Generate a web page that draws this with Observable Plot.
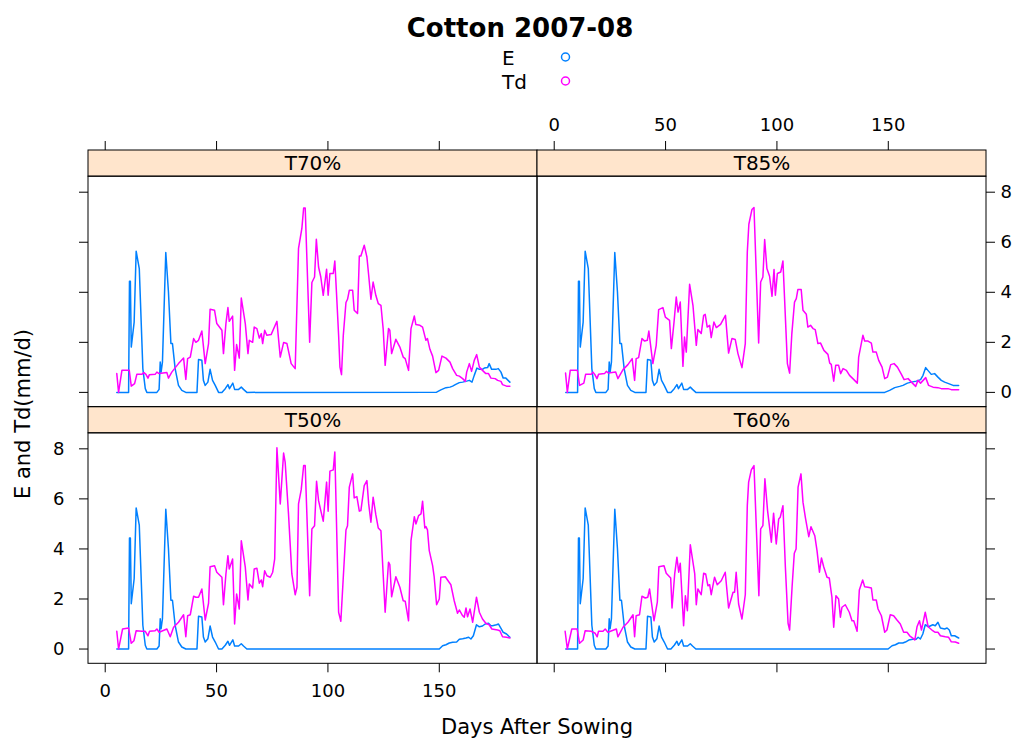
<!DOCTYPE html>
<html>
<head>
<meta charset="utf-8">
<script src="https://cdn.jsdelivr.net/npm/d3@7"></script>
<script src="https://cdn.jsdelivr.net/npm/@observablehq/plot@0.6"></script>
<style>
  html, body { margin: 0; padding: 0; background: #fff; }
  #wrap { position: relative; width: 1021px; height: 742px; overflow: hidden; font-family: "DejaVu Sans", sans-serif; }
  #chart { position: absolute; left: 0; top: 100px; }
  #overlay { position: absolute; left: 0; top: 0; pointer-events: none; }
</style>
</head>
<body>
<div id="wrap">
  <div id="chart"></div>
  <svg id="overlay" width="1021" height="742"></svg>
</div>
<script>
// ---- panels (lattice layout: two columns, two rows) ----
const panelNames = ["T70%", "T85%", "T50%", "T60%"];
const panelCols  = [0, 1, 0, 1];
const panelRows  = [0, 0, 1, 1];

const seriesNames  = ["E", "Td"];
const seriesColors = ["#0080ff", "#ff00ff"];

const xTicks = [0, 50, 100, 150];
const yTicks = [0, 2, 4, 6, 8];

const chartTitle = "Cotton 2007-08";
const xTitle = "Days After Sowing";
const yTitle = "E and Td(mm/d)";

// ---- soil evaporation E (mm/d): [day after sowing, value] ----
// the early season is common to all treatments
const eEarly = [[5.2,0],[10.5,0],[10.9,4.44],[11.3,4.44],[11.7,1.81],[13,2.81],[13.9,5.64],[15.3,4.95],[16.9,0.95],[18,0.15],[18.7,0],[23.2,0],[24.2,0.12],[24.7,1.21],[25.1,0.81],[25.7,1.21],[27.2,5.59],[28.4,4.01],[29.5,1.95],[30.2,1.95],[31.4,0.95],[32.9,0.28],[34.4,0.08],[36.2,0],[41.2,0],[41.9,1.31],[43.4,1.28],[44.1,0.48],[44.9,0.28],[46.1,0.41],[47.1,0.92],[48.2,0.48],[49.4,0.28],[50.9,0],[52.4,0],[53.9,0.15],[55.1,0.31],[55.8,0.15],[57.3,0.37],[58.1,0.12],[59.9,0.12],[61.1,0.21],[62.1,0.12],[63.6,0]];
const eTail70 = [[148.8,0.01],[150.7,0.1],[153,0.19],[154.8,0.21],[156,0.25],[157.2,0.31],[159,0.39],[160.5,0.41],[162.3,0.45],[163.5,0.48],[164.7,0.41],[165.7,0.68],[166.9,0.97],[168,0.92],[169.4,0.92],[170.2,0.97],[171.7,0.99],[172.4,1.15],[173.5,0.92],[175.4,0.92],[176.5,0.95],[177.7,0.81],[178.7,0.57],[179.9,0.57],[181.7,0.41]];
const eTail85 = [[148.4,0],[150.6,0.08],[152.9,0.19],[155.1,0.24],[156.6,0.28],[158.6,0.37],[160.4,0.41],[162.6,0.45],[164.5,0.51],[165.6,0.68],[166.8,0.99],[167.8,0.88],[169.3,0.72],[170.8,0.75],[172.3,0.61],[173.8,0.48],[175.3,0.41],[177.1,0.35],[179.1,0.28],[181.6,0.28]];
const eTail50 = [[150,0],[151.5,0.13],[153,0.17],[154.5,0.24],[156,0.27],[157.8,0.28],[159,0.39],[160.5,0.41],[162,0.44],[163.2,0.47],[164.2,0.4],[165.3,0.53],[166.7,0.97],[168,0.89],[169.4,0.92],[170.6,1.0],[172.1,1.03],[173.2,0.93],[173.9,0.93],[175.7,0.97],[176.6,1.0],[177.7,0.83],[178.7,0.67],[180.2,0.6],[181.7,0.47]];
const eTail60 = [[149.9,0],[151.7,0.13],[153.2,0.17],[154.7,0.24],[156.5,0.24],[157.7,0.28],[159.2,0.36],[161,0.39],[162.5,0.39],[163.4,0.47],[164.4,0.4],[165.5,0.6],[166.6,0.97],[168.1,0.89],[170,0.97],[171.1,0.93],[172.3,1.07],[173.4,0.84],[175.3,0.8],[176.4,0.84],[177.4,0.76],[178.3,0.53],[179.8,0.53],[181.6,0.44]];

// ---- transpiration Td (mm/d): [day after sowing, value] ----
const td70 = [[5.2,0.75],[6,0],[7.5,0.88],[10.8,0.88],[11.7,0.25],[13.2,0.35],[14.2,0.72],[16.4,0.72],[17.4,0.79],[18.3,0.72],[19.2,0.57],[19.8,0.7],[22.4,0.72],[23.2,0.81],[24.2,0.75],[27.7,0.79],[28.4,0.57],[29.9,0.81],[32.9,1.15],[35.2,1.37],[36.2,0.52],[37,1.35],[38.2,1.41],[39.7,2.15],[40.7,2.0],[41.9,2.08],[43.4,2.45],[44.9,1.15],[46.4,1.95],[47.1,3.32],[49.1,3.28],[50.1,2.75],[52.4,2.48],[53.1,1.55],[54.2,2.75],[55.1,3.39],[55.7,2.84],[57.2,3.05],[58.1,0.88],[59,1.91],[60.2,1.37],[61.1,3.77],[62.9,2.75],[64.1,1.55],[64.7,2.08],[66.2,2.0],[66.9,2.61],[68.1,2.55],[69.2,2.17],[70.1,2.35],[70.7,1.95],[71.6,2.48],[72.6,2.28],[74.5,2.31],[77.1,2.84],[78.6,1.41],[80.1,1.99],[81.6,1.95],[83.5,1.15],[85.3,0.95],[86.8,5.75],[88.3,6.55],[89.1,7.37],[89.8,7.37],[91.8,2.0],[92.8,4.39],[94,4.61],[94.8,6.12],[95.8,5.01],[96.8,4.61],[97.9,3.88],[99.4,4.92],[100.1,3.88],[100.9,4.75],[102.4,4.75],[103.1,5.25],[103.9,3.88],[104.8,2.28],[105.4,1.01],[106.1,0.71],[106.9,2.28],[108.1,3.59],[108.8,3.72],[109.6,4.08],[111.1,4.08],[111.8,3.28],[113.3,3.15],[114.1,5.45],[114.8,5.45],[116.3,5.88],[117.5,5.41],[118.3,4.68],[119.3,3.72],[120.3,4.41],[121.5,3.88],[122.6,3.55],[123.8,3.48],[124.8,2.55],[125.7,1.08],[127.2,2.55],[127.8,2.48],[128.6,1.55],[130.5,2.12],[132.3,1.81],[133.8,1.41],[134.7,1.35],[136.2,0.88],[137.3,2.55],[138.8,3.05],[139.5,2.71],[141.3,2.68],[142.5,2.61],[144,2.08],[144.7,2.15],[145.8,1.72],[147,1.45],[148.5,0.79],[149.7,0.88],[151.2,1.45],[153,1.37],[154.8,1.21],[156,0.95],[157.8,0.68],[159,0.65],[160.5,0.55],[161.7,0.44],[162.3,0.81],[163.5,1.15],[164.5,0.84],[165.7,1.28],[166.8,1.51],[168,1.01],[169.4,0.88],[170.9,0.75],[172.1,0.75],[173.2,0.57],[175.1,0.55],[176.2,0.48],[177.7,0.44],[178.4,0.31],[180.2,0.25],[181.7,0.25]];
const td85 = [[5.1,0.77],[5.9,0],[7.2,0.88],[10.4,0.88],[11.4,0.28],[13.3,0.37],[14.1,0.72],[16.6,0.72],[17.4,0.81],[18.2,0.72],[19.2,0.55],[19.9,0.72],[22.6,0.75],[23.4,0.84],[24.4,0.77],[27.6,0.81],[28.6,0.55],[30.9,0.91],[33.1,1.11],[35,1.35],[36.1,0.48],[36.8,1.35],[37.9,1.39],[39.4,2.15],[40.6,2.05],[41.8,2.08],[42.5,2.45],[44.3,1.15],[45.8,1.88],[46.9,3.31],[48.8,3.39],[49.9,3.01],[51.8,2.88],[52.6,1.75],[53.8,2.81],[54.8,3.81],[55.6,3.21],[56.6,3.61],[57.8,1.04],[58.5,2.21],[59.3,1.61],[60.8,4.32],[62.3,3.48],[63.8,1.88],[64.5,2.51],[66,2.35],[67.1,3.08],[67.8,3.12],[68.7,2.61],[69.8,2.68],[70.5,2.19],[71.7,2.81],[72.8,2.59],[74.7,2.72],[76.9,3.08],[78.3,1.57],[79.8,2.15],[81.3,2.11],[82.5,1.55],[84.3,0.99],[85.8,1.95],[86.7,5.61],[87.4,6.72],[88.8,7.31],[89.7,7.39],[91.8,1.97],[92.7,4.41],[93.7,4.61],[94.5,6.11],[95.5,4.95],[96.7,4.64],[97.8,3.84],[98.7,4.91],[99.3,3.88],[100.2,4.75],[101.7,4.81],[102.7,5.25],[103.5,3.61],[104.7,1.15],[105.7,0.77],[106.7,2.35],[107.9,3.61],[108.7,3.75],[109.4,4.11],[110.9,4.11],[111.7,3.28],[113.2,3.12],[113.9,2.61],[115.1,2.68],[116.2,2.55],[117.2,2.51],[118.4,1.95],[119.6,1.97],[121.1,1.68],[122.9,1.52],[123.7,1.17],[124.4,1.12],[125.5,0.45],[126.4,1.08],[127.7,1.08],[128.6,0.75],[129.7,0.95],[131.2,0.88],[132.6,0.68],[134.1,0.55],[136.1,0.37],[136.7,1.41],[138.6,2.28],[139.4,2.05],[140.9,2.05],[142.4,1.97],[143.1,1.61],[144.6,1.61],[145.7,1.28],[147.2,1.01],[148.4,0.55],[149.6,0.61],[151.1,1.11],[152.6,1.15],[154.1,1.01],[155.9,0.72],[157.1,0.51],[158.9,0.55],[160.4,0.41],[162.3,0.24],[163.3,0.48],[164.5,0.37],[166.8,0.59],[168.1,0.28],[170.1,0.21],[172.3,0.19],[173.8,0.15],[176.8,0.15],[178.3,0.11],[181.6,0.11]];
const td50 = [[5.2,0.71],[6,0],[7.8,0.8],[10.5,0.84],[11.7,0.23],[12.9,0.33],[13.9,0.73],[16.5,0.71],[18,0.71],[19.2,0.53],[19.9,0.71],[22.4,0.73],[23.2,0.8],[24.2,0.67],[27.7,0.8],[29.2,0.49],[30.7,0.87],[32.9,1.07],[35.2,1.37],[36.2,0.49],[37,1.33],[38.2,1.37],[39.7,2.11],[40.7,2.07],[41.9,2.07],[43.4,2.4],[44.9,1.16],[46.4,1.83],[47.1,3.29],[49.1,3.33],[50.1,3.07],[52.4,2.87],[53.1,1.77],[54.2,3.0],[55.1,3.73],[55.7,3.2],[57.2,3.6],[58.1,1.0],[59,2.2],[60.2,1.6],[61.1,4.33],[62.9,3.27],[64.1,1.96],[64.7,2.6],[66.2,2.44],[66.9,3.2],[68.1,3.23],[69.2,2.63],[70.1,2.76],[70.7,2.49],[71.6,3.13],[72.6,2.93],[74.1,2.87],[75.2,3.07],[76.1,3.6],[77.1,8.04],[78.6,5.8],[80.1,7.83],[80.8,7.47],[82.3,5.4],[83.8,3.0],[85.3,2.17],[86.1,2.47],[86.8,5.8],[88,6.36],[89.1,7.33],[89.8,7.33],[91.8,2.13],[92.8,4.8],[94,4.93],[94.9,6.7],[95.8,5.93],[96.8,5.53],[97.9,5.11],[99.4,6.67],[100.1,5.51],[100.9,7.11],[102.4,7.16],[103.1,7.87],[103.9,4.87],[104.8,1.47],[105.8,1.11],[106.9,2.87],[108.1,4.76],[108.8,4.93],[109.6,6.47],[111.1,7.0],[111.8,6.04],[113,6.09],[114.1,5.51],[114.8,5.53],[116.3,6.53],[117.5,6.73],[118.3,5.8],[119.3,5.07],[120.3,6.07],[121.5,5.37],[122.6,4.84],[123.8,4.73],[124.8,3.0],[125.7,1.47],[127.2,3.47],[127.8,3.37],[128.6,2.09],[130.5,2.89],[132.3,2.47],[133.8,1.93],[134.7,1.91],[136.2,1.13],[137.3,4.33],[138.8,5.29],[139.5,5.0],[140.7,5.33],[141.8,5.4],[142.5,5.91],[143.5,4.84],[144,4.89],[144.7,4.76],[145.5,3.93],[147,3.33],[147.7,2.89],[148.8,1.77],[150,2.0],[150.7,2.87],[152.7,2.89],[153.7,2.76],[155.2,2.57],[156.7,1.93],[158.2,1.43],[159,1.56],[160.5,1.33],[161.2,1.27],[162,1.64],[162.7,1.29],[163.8,1.6],[165,1.07],[166.7,2.07],[168,1.47],[169.4,1.2],[170.9,1.03],[172.4,0.97],[173.6,0.8],[176.2,0.76],[177.2,0.73],[178.4,0.49],[180.2,0.47],[181.7,0.44]];
const td60 = [[4.9,0.71],[5.9,0],[7.9,0.8],[10.3,0.8],[11.4,0.23],[13,0.36],[13.9,0.73],[16.6,0.71],[18.4,0.63],[19.3,0.49],[19.9,0.71],[21.9,0.71],[22.9,0.8],[24.1,0.67],[27.9,0.8],[28.6,0.49],[30.9,0.87],[33.1,1.07],[35.4,1.37],[36.1,0.49],[36.8,1.33],[38.3,1.37],[39.4,2.11],[40.9,2.04],[42,2.07],[42.8,2.4],[44.8,1.13],[46.3,1.87],[47,3.29],[49.3,3.33],[50.3,3.03],[52.3,2.84],[52.9,1.64],[54.1,3.0],[55.1,3.67],[55.9,3.07],[56.6,3.43],[58.1,0.93],[58.9,2.13],[59.8,1.53],[61.1,4.17],[63.1,3.0],[63.8,1.77],[64.5,2.4],[66,2.17],[67.1,3.03],[68,3.0],[69,2.53],[69.8,2.57],[70.5,2.17],[72,2.87],[73.2,2.57],[75,2.73],[76.8,3.07],[78.3,1.64],[80.3,2.27],[81,2.27],[81.7,3.07],[82.8,1.8],[84.3,1.2],[85.8,2.17],[86.7,5.73],[87.3,6.67],[88.5,7.16],[89.7,7.33],[91.9,2.13],[92.7,4.8],[93.7,4.93],[94.6,6.8],[95.8,5.53],[97.5,4.27],[98.5,5.43],[99.7,4.2],[100.8,5.2],[101.5,5.27],[102.7,5.73],[103.8,3.27],[105,1.03],[105.7,0.76],[106.8,2.47],[107.8,3.83],[108.6,4.0],[109.5,6.47],[110.8,7.0],[111.7,5.87],[112.8,5.24],[114.3,4.49],[115.3,4.89],[117,4.53],[118,3.93],[119.1,3.07],[120,3.64],[121,3.29],[122.5,2.87],[123.5,2.84],[124.7,2.07],[125.5,0.87],[126.5,2.13],[127.7,2.0],[128.5,1.27],[129.2,1.67],[130.7,1.77],[132.5,1.47],[133.7,1.13],[134.5,1.13],[136,0.71],[137,2.36],[138.5,2.76],[139.4,2.49],[140.9,2.47],[142.4,2.44],[143.1,1.96],[144.6,1.96],[145.4,1.6],[146.9,1.33],[147.5,1.07],[148.4,0.67],[149.4,0.76],[150.9,1.37],[152.4,1.33],[153.9,1.16],[155.4,1.0],[156.9,0.67],[158.4,0.67],[159.6,0.53],[161,0.44],[161.9,0.36],[162.9,0.89],[164,1.13],[164.9,0.76],[166.6,1.47],[167.9,0.89],[169.6,0.76],[171.1,0.67],[172.3,0.67],[173.4,0.53],[175.6,0.49],[177.1,0.47],[178.3,0.29],[180.1,0.28],[181.6,0.23]];

const tdByPanel    = [td70, td85, td50, td60];
const eTailByPanel = [eTail70, eTail85, eTail50, eTail60];

// ---- long table for the line mark ----
const rows = [];
panelNames.forEach((name, i) => {
  const base = {panel: name, col: panelCols[i], row: panelRows[i]};
  for (const [day, value] of eEarly.concat(eTailByPanel[i])) rows.push({...base, series: "E", day, value});
  for (const [day, value] of tdByPanel[i]) rows.push({...base, series: "Td", day, value});
});
const panels = panelNames.map((name, i) => ({name, col: panelCols[i], row: panelRows[i]}));

// ---- geometry ----
const W = 1021, H = 642;
const M = {top: 50, right: 35, bottom: 78.7, left: 88};
const cellW = (W - M.left - M.right) / 2;
const cellH = (H - M.top - M.bottom) / 2;
const xDom = [-7.5, 194.1];
const yDom = [-0.59, 9.666];     // lower part is the panel, upper part holds the strip
const panelTop = 8.62;           // value where the panel ends and the strip begins
const ux = (xDom[1] - xDom[0]) / cellW;   // data units per pixel
const uy = (yDom[1] - yDom[0]) / cellH;
const tickLen = 9;
const font = "DejaVu Sans";

// tick tables, lattice style: alternating labelled sides
const cross = (cells, ticks) => cells.flatMap(c => ticks.map(v => ({col: c.col, row: c.row, v})));
const leftCells   = panels.filter(p => p.col === 0);
const rightCells  = panels.filter(p => p.col === 1);
const topCells    = panels.filter(p => p.row === 0);
const bottomCells = panels.filter(p => p.row === 1);
const leftTicks   = cross(leftCells, yTicks);
const rightTicks  = cross(rightCells, yTicks);
const topTicks    = cross(topCells, xTicks);
const bottomTicks = cross(bottomCells, xTicks);
const leftLabels   = cross(panels.filter(p => p.col === 0 && p.row === 1), yTicks);
const rightLabels  = cross(panels.filter(p => p.col === 1 && p.row === 0), yTicks);
const topLabels    = cross(panels.filter(p => p.col === 1 && p.row === 0), xTicks);
const bottomLabels = cross(panels.filter(p => p.col === 0 && p.row === 1), xTicks);

const fxy = {fx: "col", fy: "row"};

const chart = Plot.plot({
  width: W,
  height: H,
  marginTop: M.top, marginRight: M.right, marginBottom: M.bottom, marginLeft: M.left,
  style: {fontFamily: font, background: "transparent", overflow: "visible"},
  fx: {domain: [0, 1], padding: 0, axis: null, round: false},
  fy: {domain: [0, 1], padding: 0, axis: null, round: false},
  x: {domain: xDom, axis: null},
  y: {domain: yDom, axis: null},
  color: {domain: seriesNames, range: seriesColors},
  marks: [
    // strips
    Plot.rect(panels, {...fxy, x1: () => xDom[0], x2: () => xDom[1], y1: () => panelTop, y2: () => yDom[1],
      fill: "#ffe5cc", stroke: "#000", strokeWidth: 1}),
    Plot.text(panels, {...fxy, x: () => (xDom[0] + xDom[1]) / 2, y: () => (panelTop + yDom[1]) / 2,
      text: "name", fontSize: 20, fill: "#000"}),
    // series
    Plot.line(rows, {...fxy, x: "day", y: "value", z: "series", stroke: "series", strokeWidth: 1.5}),
    // panel borders
    Plot.rect(panels, {...fxy, x1: () => xDom[0], x2: () => xDom[1], y1: () => yDom[0], y2: () => panelTop,
      fill: "none", stroke: "#000", strokeWidth: 1}),
    // ticks
    Plot.ruleY(leftTicks,  {...fxy, y: "v", x1: () => xDom[0] - tickLen * ux, x2: () => xDom[0], stroke: "#000"}),
    Plot.ruleY(rightTicks, {...fxy, y: "v", x1: () => xDom[1], x2: () => xDom[1] + tickLen * ux, stroke: "#000"}),
    Plot.ruleX(topTicks,   {...fxy, x: "v", y1: () => yDom[1], y2: () => yDom[1] + tickLen * uy, stroke: "#000"}),
    Plot.ruleX(bottomTicks,{...fxy, x: "v", y1: () => yDom[0] - tickLen * uy, y2: () => yDom[0], stroke: "#000"}),
    // tick labels
    Plot.text(leftLabels,  {...fxy, y: "v", x: () => xDom[0], text: d => String(d.v), dx: -24, textAnchor: "end", fontSize: 18, fill: "#000"}),
    Plot.text(rightLabels, {...fxy, y: "v", x: () => xDom[1], text: d => String(d.v), dx: 14, textAnchor: "start", fontSize: 18, fill: "#000"}),
    Plot.text(topLabels,   {...fxy, x: "v", y: () => yDom[1], text: d => String(d.v), dy: -25, fontSize: 18, fill: "#000"}),
    Plot.text(bottomLabels,{...fxy, x: "v", y: () => yDom[0], text: d => String(d.v), dy: 27, fontSize: 18, fill: "#000"})
  ]
});
document.getElementById("chart").appendChild(chart);

// ---- title, key and axis titles ----
const ov = d3.select("#overlay").style("font-family", font);
ov.append("text").attr("x", 520).attr("y", 37).attr("text-anchor", "middle")
  .attr("font-size", 26).attr("font-weight", "bold").text(chartTitle);
seriesNames.forEach((s, i) => {
  const y = 65 + i * 24;
  ov.append("text").attr("x", 502).attr("y", y).attr("font-size", 20).text(s);
  ov.append("circle").attr("cx", 565.5).attr("cy", y - 8).attr("r", 4)
    .attr("fill", "none").attr("stroke", seriesColors[i]).attr("stroke-width", 1.5);
});
ov.append("text").attr("x", 537).attr("y", 734).attr("text-anchor", "middle")
  .attr("font-size", 21).text(xTitle);
ov.append("text").attr("transform", "translate(30,414) rotate(-90)").attr("text-anchor", "middle")
  .attr("font-size", 21).text(yTitle);
</script>
</body>
</html>
